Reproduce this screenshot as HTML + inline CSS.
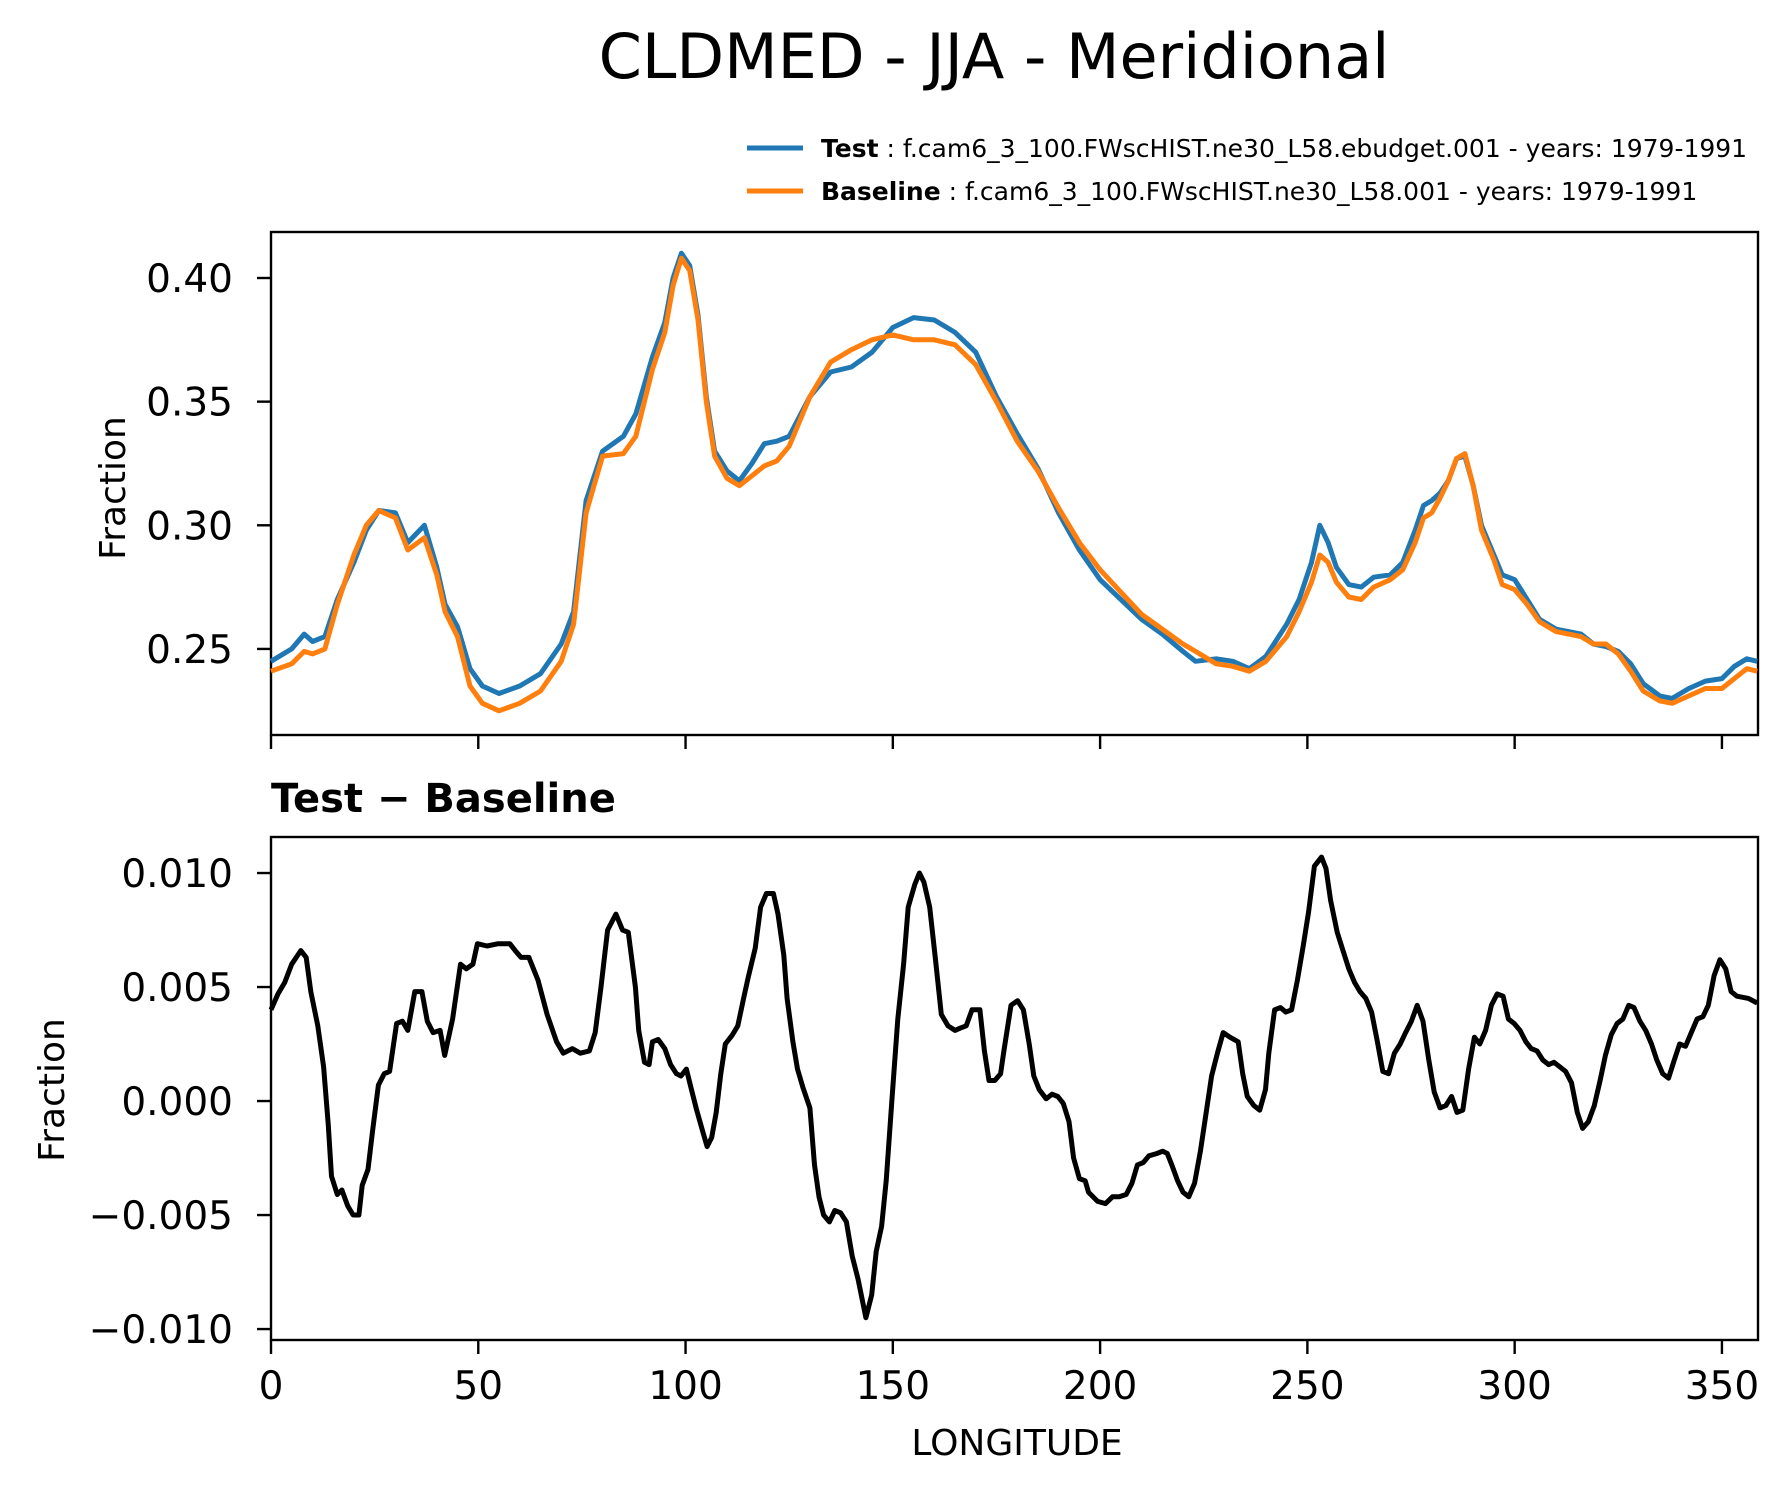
<!DOCTYPE html>
<html><head><meta charset="utf-8"><style>
html,body{margin:0;padding:0;background:#fff;}
svg{display:block;font-family:"DejaVu Sans","Liberation Sans",sans-serif;}
</style></head><body>
<svg id="chart" width="1791" height="1496" viewBox="0 0 1791 1496" xmlns="http://www.w3.org/2000/svg">
<text x="994" y="78" font-size="62" text-anchor="middle">CLDMED - JJA - Meridional</text>
<g>
<line x1="747" y1="148" x2="803" y2="148" stroke="#1f77b4" stroke-width="5"/>
<text x="821" y="157" font-size="25"><tspan font-weight="bold">Test</tspan> : f.cam6_3_100.FWscHIST.ne30_L58.ebudget.001 - years: 1979-1991</text>
<line x1="747" y1="191" x2="803" y2="191" stroke="#ff7f0e" stroke-width="5"/>
<text x="821" y="200" font-size="25"><tspan font-weight="bold">Baseline</tspan> : f.cam6_3_100.FWscHIST.ne30_L58.001 - years: 1979-1991</text>
</g>
<text x="271" y="812" font-size="40" font-weight="bold">Test − Baseline</text>
<g id="top"></g>
<g id="bot"></g>
</svg>
<script>
const lonT=[0,5,8,10,13,16,20,23,26,30,33,37,40,42,45,48,51,55,60,65,70,73,76,80,85,88,92,95,97,99,101,103,105,107,110,113,116,119,122,125,130,135,140,145,150,155,160,165,170,175,180,185,190,195,200,205,210,215,220,223,228,232,236,240,245,248,251,253,255,257,260,263,266,270,273,276,278,280,282,284,286,288,290,292,295,297,300,303,306,310,313,316,319,322,325,328,331,335,338,342,346,350,353,356,358.5];
const testVals=[.245,.250,.256,.253,.255,.270,.285,.298,.306,.305,.293,.300,.283,.268,.259,.242,.235,.232,.235,.240,.252,.265,.310,.330,.336,.345,.368,.382,.400,.410,.405,.385,.352,.330,.322,.318,.325,.333,.334,.336,.352,.362,.364,.370,.380,.384,.383,.378,.370,.352,.337,.323,.305,.290,.278,.270,.262,.256,.249,.245,.246,.245,.242,.247,.260,.270,.285,.300,.293,.283,.276,.275,.279,.280,.285,.298,.308,.310,.313,.318,.327,.328,.316,.300,.288,.280,.278,.270,.262,.258,.257,.256,.252,.251,.249,.244,.236,.231,.230,.234,.237,.238,.243,.246,.245];
const baseVals=[.241,.244,.249,.248,.250,.268,.288,.300,.306,.303,.290,.295,.280,.265,.255,.235,.228,.225,.228,.233,.245,.260,.305,.328,.329,.336,.363,.378,.397,.408,.403,.383,.350,.328,.319,.316,.320,.324,.326,.332,.352,.366,.371,.375,.377,.375,.375,.373,.365,.350,.334,.322,.307,.293,.282,.273,.264,.258,.252,.249,.244,.243,.241,.245,.255,.265,.277,.288,.285,.277,.271,.270,.275,.278,.282,.293,.303,.305,.311,.318,.327,.329,.316,.298,.286,.276,.274,.268,.261,.257,.256,.255,.252,.252,.248,.241,.233,.229,.228,.231,.234,.234,.238,.242,.241];
const lonD=[0,1.7,3.3,5.0,7.2,8.5,9.6,11.3,12.7,13.8,14.6,16.0,17.1,18.5,19.8,21.2,22.0,23.4,24.5,25.9,27.3,28.6,30.3,31.7,33.0,34.7,36.4,37.7,39.1,40.8,41.9,43.8,45.7,47.1,48.7,49.8,52.1,54.8,57.6,58.9,60.3,62.2,64.4,66.6,68.9,70.5,72.7,74.6,76.8,78.2,79.6,81.2,83.2,84.8,86.2,87.9,88.7,90.1,91.2,92.0,93.4,95.0,96.4,97.8,98.9,100.2,101.3,102.7,104.1,105.2,106.3,107.4,108.5,109.6,111.3,112.6,114.0,115.1,116.8,118.1,119.5,121.2,122.3,123.7,124.5,125.9,127.0,128.3,130.0,131.1,132.2,133.3,134.7,136.0,137.4,138.8,140.2,141.6,143.5,144.9,146.0,147.3,148.4,149.8,151.2,152.6,153.7,155.3,156.4,157.5,158.9,160.3,161.7,163.3,165.0,166.3,167.7,169.1,171.0,172.1,173.2,174.6,176.0,176.8,178.5,180.1,181.5,182.9,184.0,185.3,187.0,188.4,189.8,191.1,192.5,193.6,195.0,196.4,197.2,199.4,201.3,203.0,204.6,206.3,207.7,209.0,210.4,211.8,213.7,215.1,216.2,217.3,218.7,220.0,221.4,222.8,224.2,225.6,226.9,228.3,229.7,231.3,233.3,234.4,235.5,237.1,238.5,239.9,240.7,242.1,243.5,244.8,246.2,247.6,249.0,250.3,251.7,253.4,254.5,255.6,257.2,258.6,260.0,261.4,262.7,264.1,265.5,266.9,268.2,269.6,271.0,272.4,273.7,275.1,276.5,277.9,279.3,280.6,282.0,283.4,284.8,286.1,287.5,288.9,290.3,291.6,293.0,294.4,295.8,297.2,298.5,299.9,301.3,302.7,304.0,305.4,306.8,308.2,309.5,310.9,312.3,313.7,315.1,316.4,317.8,319.2,320.6,321.9,323.3,324.7,326.1,327.5,328.8,330.2,331.6,333.0,334.3,335.7,337.1,338.5,339.8,341.2,342.6,344.0,345.4,346.7,348.1,349.5,350.9,352.2,353.6,356.4,358.5];
const diffVals=[.004,.0047,.0052,.006,.0066,.0063,.0048,.0033,.0015,-.001,-.0033,-.0041,-.0039,-.0046,-.005,-.005,-.0037,-.003,-.0013,.0007,.0012,.0013,.0034,.0035,.0031,.0048,.0048,.0035,.003,.0031,.002,.0036,.006,.0058,.006,.0069,.0068,.0069,.0069,.0066,.0063,.0063,.0053,.0038,.0026,.0021,.0023,.0021,.0022,.003,.005,.0075,.0082,.0075,.0074,.005,.0031,.0017,.0016,.0026,.0027,.0023,.0016,.0012,.0011,.0014,.0006,-.0004,-.0013,-.002,-.0016,-.0005,.0012,.0025,.0029,.0033,.0045,.0054,.0067,.0085,.0091,.0091,.0082,.0064,.0045,.0026,.0014,.0006,-.0003,-.0028,-.0042,-.005,-.0053,-.0048,-.0049,-.0053,-.0068,-.0078,-.0095,-.0085,-.0066,-.0055,-.0035,.0001,.0036,.006,.0085,.0095,.01,.0096,.0085,.0062,.0038,.0033,.0031,.0032,.0033,.004,.004,.0022,.0009,.0009,.0012,.0022,.0042,.0044,.004,.0025,.0011,.0005,.0001,.0003,.0002,-.0001,-.0009,-.0025,-.0034,-.0035,-.004,-.0044,-.0045,-.0042,-.0042,-.0041,-.0036,-.0028,-.0027,-.0024,-.0023,-.0022,-.0023,-.0028,-.0035,-.004,-.0042,-.0036,-.0022,-.0005,.0011,.0021,.003,.0028,.0026,.0012,.0002,-.0002,-.0004,.0005,.0021,.004,.0041,.0039,.004,.0053,.0068,.0083,.0103,.0107,.0102,.0088,.0074,.0066,.0058,.0052,.0048,.0045,.0039,.0026,.0013,.0012,.0021,.0025,.003,.0035,.0042,.0035,.0018,.0004,-.0003,-.0002,.0002,-.0005,-.0004,.0014,.0028,.0025,.0031,.0042,.0047,.0046,.0036,.0034,.0031,.0026,.0023,.0022,.0018,.0016,.0017,.0015,.0013,.0008,-.0005,-.0012,-.0009,-.0002,.0009,.002,.0029,.0034,.0036,.0042,.0041,.0035,.0031,.0025,.0018,.0012,.001,.0018,.0025,.0024,.003,.0036,.0037,.0042,.0055,.0062,.0058,.0048,.0046,.0045,.0043];
const xTicks=[0,50,100,150,200,250,300,350];
const topTicks=[0.25,0.30,0.35,0.40];
const topTickLabels=["0.25","0.30","0.35","0.40"];
const botTicks=[-0.010,-0.005,0,0.005,0.010];
const botTickLabels=["\u22120.010","\u22120.005","0.000","0.005","0.010"];

const NS="http://www.w3.org/2000/svg";
const L=271,R=1758,XMAX=358.7;
const sx=v=>L+(v/XMAX)*(R-L);
function mk(tag,attrs,parent){const e=document.createElementNS(NS,tag);for(const k in attrs)e.setAttribute(k,attrs[k]);parent.appendChild(e);return e;}
function panel(g,top,bot,ymin,ymax,yt,ytl,showX){
  const sy=v=>bot-(v-ymin)/(ymax-ymin)*(bot-top);
  const ax=mk('rect',{x:L,y:top,width:R-L,height:bot-top,fill:'none',stroke:'#000','stroke-width':2.4},g);
  
  
  yt.forEach((v,i)=>{
    const t=mk('line',{x1:L-14,x2:L,y1:sy(v),y2:sy(v),stroke:'#000','stroke-width':2.4},g);
    
    
    const tx=mk('text',{x:L-38,y:sy(v)+14,'font-size':39,'text-anchor':'end'},g);
    tx.textContent=ytl[i];
    
    
  });
  xTicks.forEach(v=>{
    const t=mk('line',{x1:sx(v),x2:sx(v),y1:bot,y2:bot+14,stroke:'#000','stroke-width':2.4},g);
    
    
    if(showX){
      const tx=mk('text',{x:sx(v),y:1399,'font-size':39,'text-anchor':'middle'},g);
      tx.textContent=String(v);
      
      
    }
  });
  return sy;
}
function line(g,xs,ys,sy,color,name){
  const d=xs.map((x,i)=>(i?'L':'M')+sx(x).toFixed(1)+','+sy(ys[i]).toFixed(1)).join(' ');
  const p=mk('path',{d:d,fill:'none',stroke:color,'stroke-width':5,'stroke-linejoin':'round'},g);
  
  
}
const gt=document.getElementById('top'),gb=document.getElementById('bot');
const syT=panel(gt,232,735,0.2152,0.4186,topTicks,topTickLabels,false);
line(gt,lonT,testVals,syT,'#1f77b4','test-line');
line(gt,lonT,baseVals,syT,'#ff7f0e','baseline-line');
const syB=panel(gb,837,1340,-0.01048,0.01158,botTicks,botTickLabels,true);
line(gb,lonD,diffVals,syB,'#000','diff-line');
let yl=mk('text',{x:0,y:0,'font-size':36,'text-anchor':'middle',transform:'translate(125,488) rotate(-90)'},gt);
yl.textContent='Fraction';


let yl2=mk('text',{x:0,y:0,'font-size':36,'text-anchor':'middle',transform:'translate(64,1090) rotate(-90)'},gb);
yl2.textContent='Fraction';


let xl=mk('text',{x:1017,y:1455,'font-size':36,'text-anchor':'middle'},gb);
xl.textContent='LONGITUDE';


</script>
</body></html>
